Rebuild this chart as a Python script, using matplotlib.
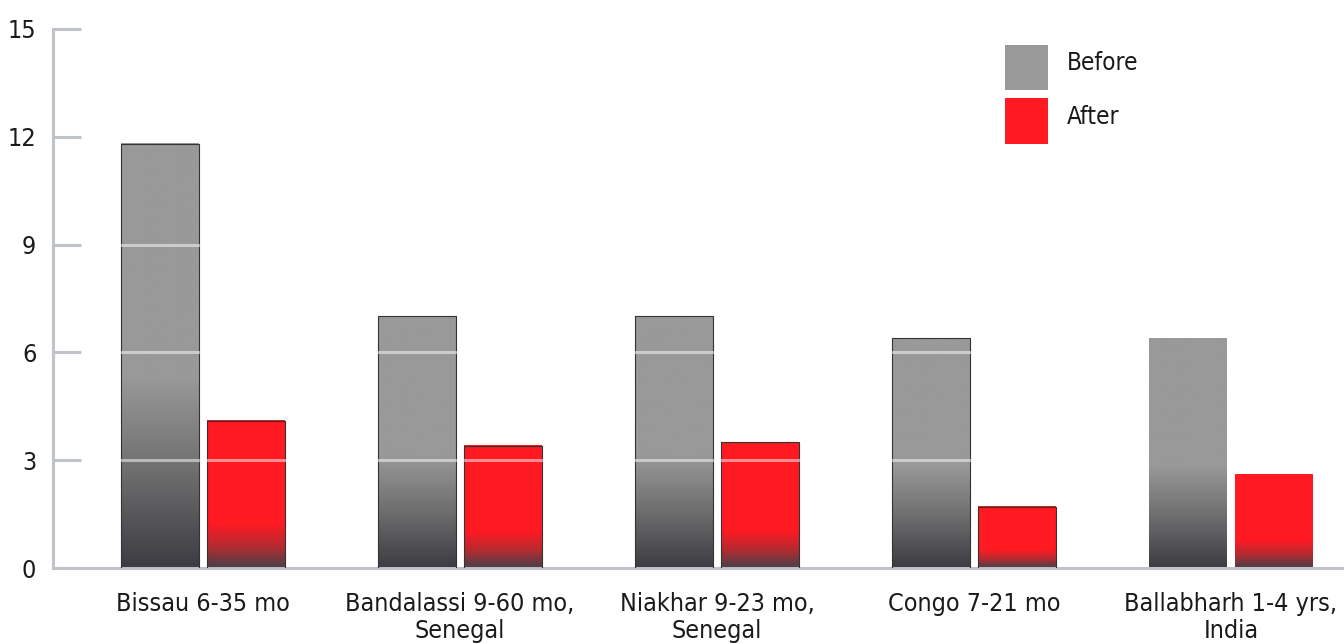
import matplotlib
matplotlib.use("Agg")
import matplotlib.pyplot as plt
import numpy as np
from matplotlib.colors import LinearSegmentedColormap
from matplotlib.patches import Patch

plt.rcParams["font.family"] = ["Liberation Sans Narrow", "DejaVu Sans"]
plt.rcParams["font.stretch"] = "condensed"

# данные
categories = ["Bissau 6-35 mo", "Bandalassi 9-60 mo,\nSenegal", "Niakhar 9-23 mo,\nSenegal",
              "Congo 7-21 mo", "Ballabharh 1-4 yrs,\nIndia"]
before = [11.8, 7.0, 7.0, 6.4, 6.4]
after = [4.1, 3.4, 3.5, 1.7, 2.6]
yticks = [0, 3, 6, 9, 12, 15]

GREY = "#999999"
RED = "#ff1a22"
AXIS = "#c0c4c8"
TXT = "#1a1a1a"

grey_cmap = LinearSegmentedColormap.from_list("g", ["#3d3c42", "#6e6e6f", GREY, GREY])
red_cmap = LinearSegmentedColormap.from_list("r", ["#4a4048", "#b82a30", RED, RED])

fig = plt.figure(figsize=(13.44, 6.44), dpi=100)
ax = fig.add_axes([53 / 1344, 76 / 644, 1 - 53 / 1344, (568 - 29) / 644])

x = np.arange(len(categories))
w = 0.303
off = 0.167


def grad_bar(xc, h, cmap, frac, edge):
    # столбец с градиентом снизу
    bar = ax.bar(xc, h, width=w, color="none", edgecolor="#333333" if edge else "none",
                 linewidth=0.8, zorder=3)[0]
    n = 200
    t = np.linspace(0, 1, n)
    v = np.clip(t / frac, 0, 1) * 0.67
    v = np.where(t >= frac, 1.0, v)
    img = v.reshape(-1, 1)
    ax.imshow(img, cmap=cmap, vmin=0, vmax=1, origin="lower", aspect="auto",
              extent=[xc - w / 2, xc + w / 2, 0, h], zorder=2, interpolation="bilinear")
    return bar


for i in range(len(categories)):
    edge = i < len(categories) - 1
    grad_bar(x[i] - off, before[i], grey_cmap, 0.45, edge)
    grad_bar(x[i] + off, after[i], red_cmap, 0.3, edge)

# светлые линии сетки поверх столбцов (кроме последней группы)
for yv in yticks[1:-1]:
    ax.plot([-0.4, 3.5], [yv, yv], color="white", alpha=0.5, lw=2.2, zorder=4,
            solid_capstyle="butt")

ax.set_xlim(-0.584, 4.44)
ax.set_ylim(0, 15)
ax.set_xticks(x)
ax.set_xticklabels(categories, fontsize=18, color=TXT)
ax.set_yticks(yticks)
ax.set_yticklabels([str(v) for v in yticks], fontsize=18, color=TXT)
ax.tick_params(axis="x", length=0, pad=17)
ax.tick_params(axis="y", direction="in", length=20, width=2.2, color=AXIS, pad=12)

for s in ["top", "right"]:
    ax.spines[s].set_visible(False)
ax.spines["left"].set_color(AXIS)
ax.spines["left"].set_linewidth(2.2)
ax.spines["bottom"].set_color(AXIS)
ax.spines["bottom"].set_linewidth(2.2)

handles = [Patch(facecolor=GREY, label="Before"), Patch(facecolor=RED, label="After")]
leg = fig.legend(handles=handles, loc="upper left", bbox_to_anchor=(1005 / 1344, 1 - 45 / 644),
                 frameon=False, fontsize=17.5, handlelength=1.75, handleheight=2.5,
                 labelspacing=0.33, handletextpad=0.8, borderpad=0, borderaxespad=0,
                 labelcolor=TXT)
for t in leg.get_texts():
    t.set_va("bottom")

fig.savefig("out.png", dpi=100)
